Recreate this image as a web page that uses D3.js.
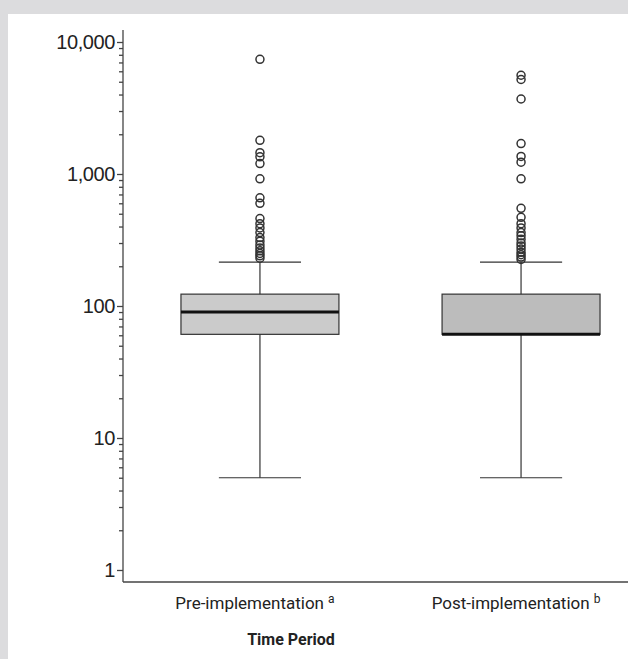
<!DOCTYPE html>
<html>
<head>
<meta charset="utf-8">
<script src="https://cdn.jsdelivr.net/npm/d3@7"></script>
<style>
  body { margin: 0; background: #dcdcde; overflow: hidden; }
  #panel { position: absolute; left: 8px; top: 14px; width: 620px; height: 645px; background: #fff; }
  svg { position: absolute; left: 0; top: 0; }
</style>
</head>
<body>
<div id="panel"></div>
<svg id="chart" width="628" height="659"></svg>
<script>
// categories and box statistics
let categories = ["Pre-implementation", "Post-implementation"];
let superscripts = ["a", "b"];
let whiskerLow = [5, 5];
let q1 = [61, 61];
let median = [90, 61];
let q3 = [123, 123];
let whiskerHigh = [215, 215];

let outliersPre = [7400, 1800, 1450, 1350, 1200, 920, 660, 600, 460, 420, 390, 360,
    330, 310, 290, 275, 262, 250, 240, 230];
let outliersPost = [5600, 5200, 3700, 1700, 1360, 1230, 920, 550, 470, 420, 390, 360,
    340, 320, 300, 285, 270, 255, 245, 235, 225];

let yTicks = [1, 10, 100, 1000, 10000];

let svg = d3.select('#chart');

let x = d3.scaleBand()
    .domain(categories)
    .range([123, 658])
    .paddingInner(0.395)
    .paddingOuter(0.222);

let y = d3.scaleLog()
    .domain([0.811, 12330])
    .range([582, 30]);

let minorTicks = [];
for (let e = 0; e < 4; e++) {
    for (let k = 2; k <= 9; k++) minorTicks.push(k * Math.pow(10, e));
}

// axes
let yMinor = svg.append('g')
    .attr('transform', 'translate(123,0)')
    .call(d3.axisLeft(y).tickValues(minorTicks).tickSize(4).tickFormat(''));
yMinor.select('.domain').remove();

let yAxis = svg.append('g')
    .attr('transform', 'translate(123,0)')
    .call(d3.axisLeft(y).tickValues(yTicks).tickSize(6).tickPadding(2).tickFormat(d3.format(',')));
yAxis.select('.domain').attr('d', `M0,${y.range()[1]}V${y.range()[0]}`);
yAxis.selectAll('text')
    .attr('font-family', 'Liberation Sans, Arial, sans-serif')
    .attr('font-size', 20)
    .attr('letter-spacing', '-0.4px')
    .attr('fill', '#222');
svg.selectAll('.tick line, .domain').attr('stroke', '#444').attr('stroke-width', 1.3);

svg.append('line')
    .attr('x1', 123).attr('x2', 628)
    .attr('y1', 582).attr('y2', 582)
    .attr('stroke', '#444').attr('stroke-width', 1.6);

// boxes
let stats = categories.map((c, i) => ({
    cat: c, sup: superscripts[i], lo: whiskerLow[i], q1: q1[i], med: median[i],
    q3: q3[i], hi: whiskerHigh[i], out: i === 0 ? outliersPre : outliersPost,
    fill: i === 0 ? '#cbcbcb' : '#bcbcbc'
}));

let g = svg.append('g')
    .selectAll('g')
    .data(stats)
    .join('g');

let cx = d => x(d.cat) + x.bandwidth() / 2;
let capW = x.bandwidth() * 0.26;

g.append('line')
    .attr('x1', cx).attr('x2', cx)
    .attr('y1', d => y(d.lo)).attr('y2', d => y(d.hi))
    .attr('stroke', '#333').attr('stroke-width', 1.2);

g.append('line')
    .attr('x1', d => cx(d) - capW).attr('x2', d => cx(d) + capW)
    .attr('y1', d => y(d.lo)).attr('y2', d => y(d.lo))
    .attr('stroke', '#333').attr('stroke-width', 1.2);

g.append('line')
    .attr('x1', d => cx(d) - capW).attr('x2', d => cx(d) + capW)
    .attr('y1', d => y(d.hi)).attr('y2', d => y(d.hi))
    .attr('stroke', '#333').attr('stroke-width', 1.2);

g.append('rect')
    .attr('x', d => x(d.cat))
    .attr('width', x.bandwidth())
    .attr('y', d => y(d.q3))
    .attr('height', d => y(d.q1) - y(d.q3))
    .attr('fill', d => d.fill)
    .attr('stroke', '#333').attr('stroke-width', 1.2);

g.append('line')
    .attr('x1', d => x(d.cat)).attr('x2', d => x(d.cat) + x.bandwidth())
    .attr('y1', d => y(d.med)).attr('y2', d => y(d.med))
    .attr('stroke', '#111').attr('stroke-width', 3);

g.selectAll('circle')
    .data(d => d.out.map(v => ({ v: v, cx: cx(d) })))
    .join('circle')
    .attr('cx', d => d.cx)
    .attr('cy', d => y(d.v))
    .attr('r', 4)
    .attr('fill', 'none')
    .attr('stroke', '#333')
    .attr('stroke-width', 1.5);

// category labels
let lab = svg.append('g')
    .selectAll('text')
    .data(stats)
    .join('text')
    .attr('x', d => cx(d) - 5)
    .attr('y', 609)
    .attr('font-family', 'Roboto, sans-serif')
    .attr('font-size', 17)
    .attr('fill', '#222')
    .attr('text-anchor', 'middle');
lab.append('tspan').text(d => d.cat);
lab.append('tspan').attr('dx', 4).attr('dy', -6).attr('font-size', 12).text(d => d.sup);

svg.append('text')
    .attr('x', 291)
    .attr('y', 645)
    .attr('text-anchor', 'middle')
    .attr('font-family', 'Roboto, sans-serif')
    .attr('font-weight', 'bold')
    .attr('font-size', 16)
    .attr('fill', '#222')
    .text('Time Period');
</script>
</body>
</html>
